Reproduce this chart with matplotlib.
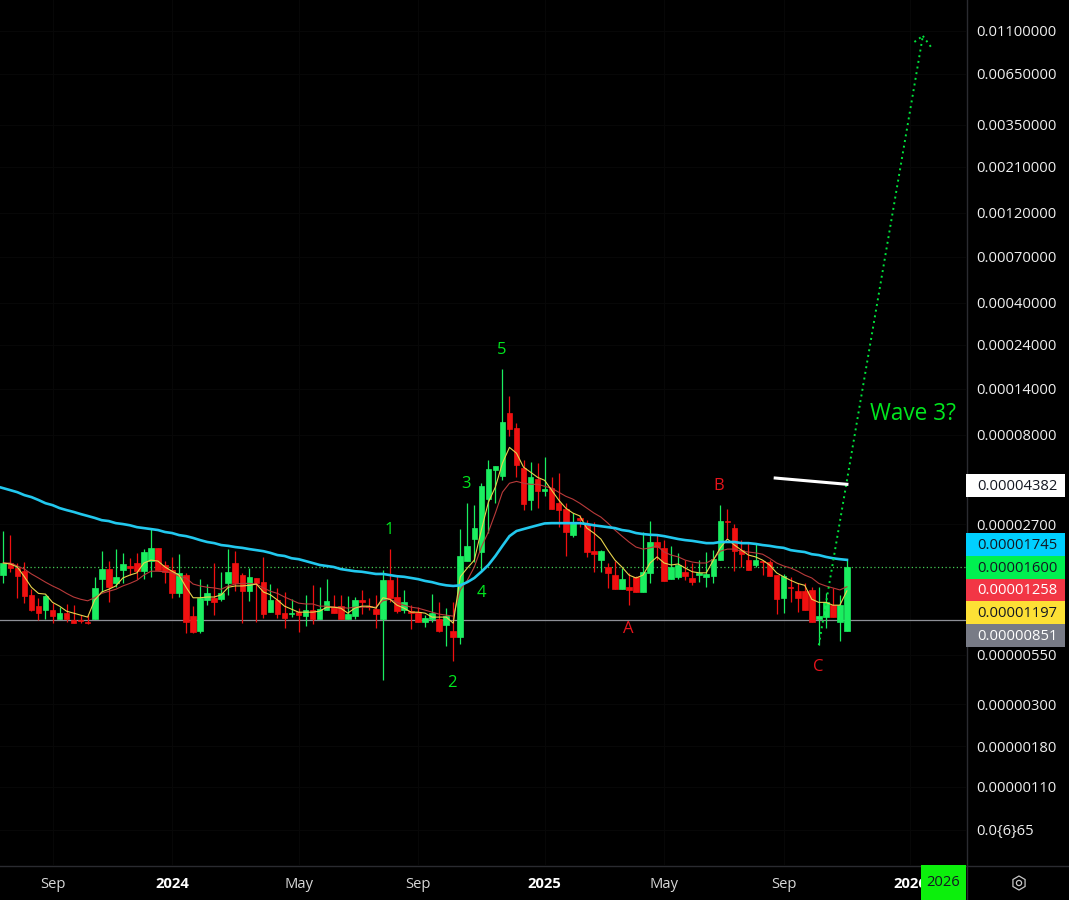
import matplotlib
matplotlib.use("Agg")
import matplotlib.pyplot as plt
from matplotlib.lines import Line2D
from matplotlib.patches import Rectangle, RegularPolygon, Circle
from matplotlib.transforms import ScaledTranslation
import numpy as np

# weekly candles, prices in millionths
opens = [14.5,16.8,15.8,15.2,11.4,9.93,9.46,9.46,8.48,9.12,8.37,8.37,8.17,8.48,13.8,15.6,13.1,15.4,16.2,16.8,
	15.2,17.2,20.2,16.4,15.4,11.6,14.5,8.79,7.32,10.7,11.0,10.8,13.1,16.8,14.5,11.9,14.0,13.3,9.23,10.7,
	9.12,9.01,9.23,8.79,9.46,8.48,9.46,9.81,9.93,8.48,8.79,10.7,9.93,9.57,8.48,13.6,11.1,9.46,9.34,9.23,
	8.17,8.48,8.48,7.88,7.32,6.80,17.2,22.5,19.2,36.6,52.0,48.3,104.4,86.9,53.3,36.2,46.6,40.3,41.8,34.8,
	32.4,23.6,29.1,27.0,19.4,17.4,16.0,14.5,12.2,12.5,14.2,11.8,14.9,21.7,20.2,13.8,14.2,15.1,14.0,14.6,
	14.2,14.3,17.4,28.0,25.7,19.65,17.4,16.4,17.2,17.0,14.5,11.0,12.5,11.9,11.9,12.1,8.48,8.69,10.05,8.17,7.32]
highs = [24.8,23.6,16.8,17.0,12.2,11.0,11.4,10.3,9.81,10.2,10.05,8.90,8.90,14.2,19.4,17.2,19.9,19.0,17.8,19.0,
	19.9,25.4,20.2,17.2,18.1,18.7,14.9,9.93,13.8,13.0,16.8,15.1,19.9,19.4,14.9,15.8,14.0,18.1,13.0,12.4,
	11.8,10.8,9.69,11.4,12.8,12.5,13.8,11.4,11.4,11.2,11.1,12.1,11.0,11.4,15.4,19.9,14.3,12.1,10.05,9.81,
	8.90,11.5,10.4,9.69,10.4,25.4,34.8,34.0,44.4,58.8,54.6,178.6,128.5,92.5,58.8,57.4,56.7,61.0,47.7,50.1,
	34.8,30.9,30.1,28.3,27.6,19.65,16.8,17.2,15.8,14.9,14.3,24.5,28.0,23.6,22.2,20.7,19.0,17.4,16.8,17.4,
	19.2,19.65,34.0,32.4,27.0,22.2,21.4,21.2,17.4,17.4,14.5,14.7,14.2,13.1,13.1,12.5,12.5,11.6,12.4,11.4,17.6]
lows = [13.1,15.1,11.0,10.3,9.34,8.37,8.48,8.07,8.48,8.17,8.07,8.07,8.0,8.48,11.8,10.4,12.5,13.1,14.5,13.8,
	13.8,14.2,15.4,13.1,11.0,11.1,7.14,7.14,7.14,10.05,8.90,10.6,11.4,11.9,8.07,10.6,8.17,8.58,9.23,8.58,
	7.60,8.69,7.23,7.78,7.97,8.48,9.46,9.12,8.48,8.48,8.48,9.01,9.46,7.60,4.03,10.4,9.12,9.12,7.50,8.17,
	7.69,8.17,7.23,6.09,5.08,6.25,17.2,17.0,15.4,24.2,34.8,46.0,78.8,47.7,32.0,32.0,32.8,37.9,32.4,26.0,
	18.3,23.1,26.0,18.1,15.1,15.1,12.4,12.2,12.2,10.05,11.8,11.8,13.1,17.4,13.5,13.8,13.8,13.6,12.8,13.3,
	12.5,13.1,17.4,22.8,15.2,16.0,15.4,16.0,14.5,14.3,9.01,9.12,10.4,9.23,9.46,8.17,6.17,7.60,8.69,6.48,7.32]
closes = [16.8,15.8,14.3,11.2,9.46,9.12,11.2,8.79,9.12,8.48,8.07,8.27,8.07,12.4,15.6,12.5,14.2,16.6,15.8,15.2,
	19.2,20.2,15.4,15.1,11.6,14.9,8.17,7.23,11.0,11.6,10.4,11.6,15.1,13.1,11.9,14.2,13.1,9.01,10.7,9.01,
	8.58,9.12,8.90,9.46,8.48,9.57,10.6,9.12,8.48,9.01,10.7,10.4,9.81,9.01,13.6,11.0,9.34,10.4,9.12,8.17,
	8.58,9.12,7.32,8.79,6.80,18.3,20.7,25.7,42.8,52.7,54.6,93.6,85.8,55.3,34.4,47.7,40.3,41.3,32.4,32.0,
	24.5,27.3,28.3,19.2,18.7,19.4,14.9,12.2,13.8,12.1,11.8,15.1,21.7,20.4,13.5,16.0,16.4,14.3,13.3,14.8,
	14.7,17.6,28.0,27.6,19.4,18.7,15.4,17.4,17.0,14.3,10.8,14.3,12.4,11.0,9.46,8.17,8.79,10.4,8.69,10.05,16.0]

ma_fast = [16.8,16.6,16.0,14.2,12.5,11.6,11.5,10.4,9.93,9.34,9.12,8.90,8.69,10.7,11.8,12.2,12.7,14.0,14.5,14.9,
	16.8,17.4,17.2,16.0,15.2,14.5,12.5,11.0,11.0,11.1,11.1,11.4,12.5,12.7,12.7,12.8,13.0,11.8,11.4,10.7,
	9.93,9.57,9.23,9.23,9.23,9.34,9.81,9.81,9.69,9.12,9.69,9.93,9.93,9.69,11.0,10.8,10.05,9.69,9.23,9.23,
	9.12,8.69,8.69,8.69,8.07,14.2,15.8,17.4,25.1,35.2,42.4,56.7,68.7,64.0,54.0,50.8,47.7,46.0,40.8,36.2,
	32.8,30.9,29.8,25.7,24.2,22.5,19.65,17.4,16.0,14.5,14.0,14.5,16.8,18.1,16.8,16.4,16.6,15.8,15.1,14.9,
	14.9,17.4,20.2,22.5,20.9,19.65,18.5,18.1,17.4,16.4,14.9,14.2,13.6,13.1,12.8,10.8,10.4,10.4,10.05,10.05,11.97]
ma_slow = [16.8,16.8,16.2,15.6,14.7,14.0,13.3,12.7,12.2,11.6,11.1,10.8,10.6,11.0,11.6,11.9,12.2,12.7,13.1,13.6,
	14.5,15.2,15.2,15.1,14.9,14.3,14.0,13.0,12.7,12.5,12.4,12.2,12.7,13.0,13.1,13.1,13.0,12.4,11.9,11.6,
	11.1,10.7,10.3,10.2,10.2,9.93,9.93,9.81,9.81,9.69,9.81,9.81,9.81,9.81,10.6,10.8,10.4,10.05,9.81,9.69,
	9.46,9.23,9.01,8.90,8.79,12.1,13.6,16.0,20.4,24.5,30.9,39.8,44.4,45.4,44.4,43.8,43.8,42.8,41.8,39.8,
	37.9,36.6,34.8,32.8,30.9,29.4,27.3,25.1,23.3,21.7,20.4,19.9,20.2,20.7,19.2,18.5,18.1,17.4,17.0,16.8,
	16.8,17.6,19.4,19.9,19.9,19.4,19.2,19.0,18.7,17.8,16.8,16.2,15.8,15.2,14.5,14.0,13.1,12.7,12.4,12.1,12.58]
ma_long = [41.8,40.8,39.8,38.4,37.5,36.2,34.8,34.0,32.8,32.0,31.3,30.5,29.8,29.1,28.3,28.0,27.3,27.0,26.6,26.0,
	25.7,25.4,25.1,24.5,24.2,23.6,23.3,22.8,22.2,21.7,21.4,20.9,20.7,20.4,20.2,19.9,19.65,19.4,19.0,18.5,
	18.3,17.8,17.6,17.2,16.8,16.4,16.2,16.0,15.6,15.4,15.2,15.1,14.9,14.7,14.7,14.5,14.3,14.2,14.0,13.8,
	13.5,13.3,13.0,12.8,12.7,12.8,13.3,14.0,15.1,16.4,18.3,20.7,23.3,24.8,25.4,26.0,26.6,27.2,27.3,27.3,
	27.3,27.3,27.3,27.0,26.6,26.3,26.0,25.7,25.1,24.8,24.2,23.9,23.7,23.6,23.3,22.9,22.5,22.2,22.0,21.7,
	21.4,21.4,21.7,21.7,21.7,21.4,21.4,21.2,20.9,20.7,20.4,20.2,19.65,19.4,19.2,18.7,18.5,18.1,17.8,17.6,17.45]
ma_long_before = 42.8

last_close = 16.0
current_low = 8.4

forecast_x = [116, 130.8]
forecast_y = [6.17, 10330]
arrow_left_x = [129.6, 130.8]
arrow_left_y = [9600, 10330]
arrow_right_x = [130.8, 131.97]
arrow_right_y = [10330, 9020]
white_x = [109.8, 120]
white_y = [47.3, 43.82]

wave_labels = ["1", "2", "3", "4", "5"]
wave_x = [54.9, 63.8, 65.8, 67.95, 70.9]
wave_y = [25.7, 3.99, 45.1, 11.94, 230]
abc_labels = ["A", "B", "C"]
abc_x = [88.9, 101.8, 115.9]
abc_y = [7.69, 43.8, 4.84]

price_ticks = [11000, 6500, 3500, 2100, 1200, 700, 400, 240, 140, 80, 27, 5.5, 3, 1.8, 1.1, 0.65]
price_labels = ["0.01100000", "0.00650000", "0.00350000", "0.00210000", "0.00120000", "0.00070000",
	"0.00040000", "0.00024000", "0.00014000", "0.00008000", "0.00002700", "0.00000550",
	"0.00000300", "0.00000180", "0.00000110", "0.0{6}65"]
date_ticks = [7, 24, 42, 59, 77, 94, 111, 129]
date_labels = ["Sep", "2024", "May", "Sep", "2025", "May", "Sep", "2026"]

tag_labels = ["0.00004382", "0.00001745", "0.00001600", "0.00001258", "0.00001197", "0.00000851"]
tag_colors = ["#ffffff", "#00d0ff", "#00f050", "#f23645", "#fde035", "#787b86"]
tag_text = ["#131722", "#131722", "#131722", "#ffffff", "#131722", "#ffffff"]
tag_top = [474, 533, 556, 579, 601, 624]
tag_bottom = [497, 556, 579, 601, 624, 647]

W, H = 1069, 900
GREEN = "#1aee60"
RED = "#f01010"
MARK = "#00e61e"

plt.rcParams["font.family"] = "Open Sans"

fig = plt.figure(figsize=(W / 100, H / 100), dpi=100, facecolor="black")
ax = fig.add_axes([0, 35 / H, 966 / W, 865 / H], facecolor="black")

# open sans sits a little high compared to the original text
nudge = ScaledTranslation(0, -1.5 / 72, fig.dpi_scale_trans)

o = np.array(opens)
c = np.array(closes)
idx = np.arange(len(o))
colors = [GREEN if c[i] >= o[i] else RED for i in idx]

ax.set_yscale("log")
ax.vlines(idx, lows, highs, colors=colors, linewidth=0.9, zorder=3)
ax.bar(idx, np.abs(c - o), bottom=np.minimum(o, c), width=0.8, color=colors, edgecolor=colors, linewidth=0.5, zorder=4)

ax.plot(idx, ma_slow, color="#b83a3a", lw=0.8, zorder=5)
ax.plot(idx, ma_fast, color="#e8d44d", lw=0.8, zorder=5)
ax.plot(np.r_[-1, idx], np.r_[ma_long_before, ma_long], color="#22c8ee", lw=1.9, zorder=6)

ax.axhline(last_close, color="#44cc55", lw=0.9, ls=(0, (1, 2)), zorder=2)
ax.axhline(current_low, color="#8d8f96", lw=0.9, zorder=2)

for xs, ys in [(forecast_x, forecast_y), (arrow_left_x, arrow_left_y), (arrow_right_x, arrow_right_y)]:
	ax.plot(xs, ys, color="#00e63c", lw=1.4, ls=(0, (1, 1.95)), zorder=7)
ax.plot(white_x, white_y, color="white", lw=2.2, zorder=7)

for label, x, y in zip(wave_labels, wave_x, wave_y):
	ax.text(x, y, label, color=MARK, fontsize=12, ha="center", va="center", zorder=8, transform=ax.transData + nudge)
for label, x, y in zip(abc_labels, abc_x, abc_y):
	ax.text(x, y, label, color="#e8141c", fontsize=12, ha="center", va="center", zorder=8, transform=ax.transData + nudge)
ax.text(129.4, 106, "Wave 3?", color=MARK, fontsize=16.3, ha="center", va="center", zorder=8, transform=ax.transData + nudge)

ax.set_xlim(-0.47, 136.94)
ax.set_ylim(16 * 10 ** (-298 / 189), 16 * 10 ** (567 / 189))

ax.yaxis.tick_right()
ax.set_yticks(price_ticks)
ax.set_yticklabels(price_labels)
ax.minorticks_off()
ax.set_xticks(date_ticks)
ax.set_xticklabels(date_labels)
ax.tick_params(axis="y", length=0, pad=7.5, labelsize=10.6, labelcolor="#f0f0f0")
ax.tick_params(axis="x", length=0, pad=9, labelsize=10.6, labelcolor="#d8d8d8")
for label in ax.get_xticklabels():
	if label.get_text().isdigit():
		label.set_fontweight("bold")
		label.set_color("white")
ax.grid(True, color="#070707", lw=0.8, zorder=0)
ax.set_axisbelow(True)
for side in ax.spines:
	ax.spines[side].set_visible(False)

# price tags and bottom-right furniture are in figure pixels
def fx(px):
	return px / W

def fy(px):
	return 1 - px / H

fig.add_artist(Line2D([fx(966.5), fx(966.5)], [0, 1], color="#2a2b30", lw=1, zorder=3))
fig.add_artist(Line2D([0, 1], [fy(865.5), fy(865.5)], color="#2a2b30", lw=1, zorder=3))

for label, col, tcol, top, bottom in zip(tag_labels, tag_colors, tag_text, tag_top, tag_bottom):
	fig.add_artist(Rectangle((fx(966), fy(bottom)), 99 / W, (bottom - top) / H, color=col, lw=0, zorder=5))
	fig.text(fx(1017), fy((top + bottom) / 2 + 1), label, color=tcol, fontsize=10.6, ha="center", va="center", zorder=6)

fig.add_artist(Rectangle((fx(921), 0), 45 / W, 35 / H, color="#0cf00c", lw=0, zorder=5))
fig.text(fx(943.5), fy(883), "2026", color="#131722", fontsize=10.6, ha="center", va="center", zorder=6)

icon_ax = fig.add_axes([fx(1009), fy(893), 20 / W, 20 / H], facecolor="none")
icon_ax.set_xlim(-10, 10)
icon_ax.set_ylim(-10, 10)
icon_ax.axis("off")
icon_ax.add_patch(RegularPolygon((0, 0), 6, radius=7, fill=False, edgecolor="#c8c8c8", lw=0.9))
icon_ax.add_patch(Circle((0, 0), 2.6, fill=False, edgecolor="#c8c8c8", lw=0.9))

fig.savefig("out.png", dpi=100, facecolor="black")
